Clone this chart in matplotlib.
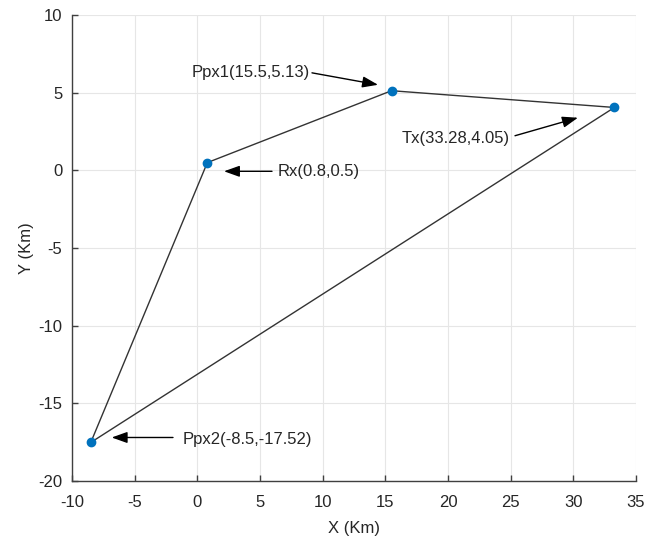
#!/usr/bin/env python3
"""Posiciones Tx / Rx / Ppx1 / Ppx2 en el plano X-Y (Km)."""

import matplotlib
matplotlib.use("Agg")
import matplotlib.pyplot as plt

# puntos (Km)
names = ["Rx", "Ppx1", "Tx", "Ppx2"]
xs = [0.8, 15.5, 33.28, -8.5]
ys = [0.5, 5.13, 4.05, -17.52]

# recorrido cerrado Rx -> Ppx1 -> Tx -> Ppx2 -> Rx
path_order = [0, 1, 2, 3, 0]

labels = ["Rx(0.8,0.5)", "Ppx1(15.5,5.13)", "Tx(33.28,4.05)", "Ppx2(-8.5,-17.52)"]

xticks = [-10, -5, 0, 5, 10, 15, 20, 25, 30, 35]
yticks = [-20, -15, -10, -5, 0, 5, 10]

TXT = "#262626"
plt.rcParams["font.family"] = ["Liberation Sans", "DejaVu Sans"]
plt.rcParams["axes.unicode_minus"] = False

fig = plt.figure(figsize=(6.55, 5.38), dpi=100)
ax = fig.add_axes([0.1099, 0.106, 0.861, 0.866])

px = [xs[i] for i in path_order]
py = [ys[i] for i in path_order]
ax.plot(px, py, color="#333333", lw=1.0, zorder=2)
ax.plot(xs, ys, "o", color="#0072BD", ms=6, zorder=3)

ax.set_xlim(-10, 35)
ax.set_ylim(-20, 10)
ax.set_xticks(xticks)
ax.set_yticks(yticks)
ax.grid(True, color="#e6e6e6", lw=0.8)
ax.set_axisbelow(True)

for s in ["top", "right"]:
    ax.spines[s].set_visible(False)
for s in ["left", "bottom"]:
    ax.spines[s].set_color("#404040")
    ax.spines[s].set_linewidth(1.0)

ax.tick_params(direction="in", length=4, width=1.0, colors="#404040",
               labelcolor=TXT, labelsize=12)
ax.tick_params(axis="x", pad=10)
ax.tick_params(axis="y", pad=7)

ax.set_xlabel("X (Km)", fontsize=12, color=TXT, labelpad=8)
ax.set_ylabel("Y (Km)", fontsize=12, color=TXT, labelpad=3)

# anotaciones: (texto x, texto y, alineacion, cola flecha, punta flecha)
notes = [
    (6.44, -0.06, "left", (5.96, -0.06), (2.13, -0.06)),
    (9.0, 6.28, "right", (9.15, 6.28), (14.42, 5.51)),
    (24.95, 2.08, "right", (25.35, 2.23), (30.37, 3.39)),
    (-1.14, -17.35, "left", (-1.94, -17.2), (-6.83, -17.2)),
]

for lab, (tx, ty, ha, tail, tip) in zip(labels, notes):
    ax.text(tx, ty, lab, ha=ha, va="center", fontsize=12, color=TXT)
    ax.annotate("", xy=tip, xytext=tail,
                arrowprops=dict(arrowstyle="-|>,head_length=0.95,head_width=0.34",
                                color="black", lw=1.0, mutation_scale=10,
                                shrinkA=0, shrinkB=0))

fig.savefig("out.png", dpi=100)
plt.close(fig)
